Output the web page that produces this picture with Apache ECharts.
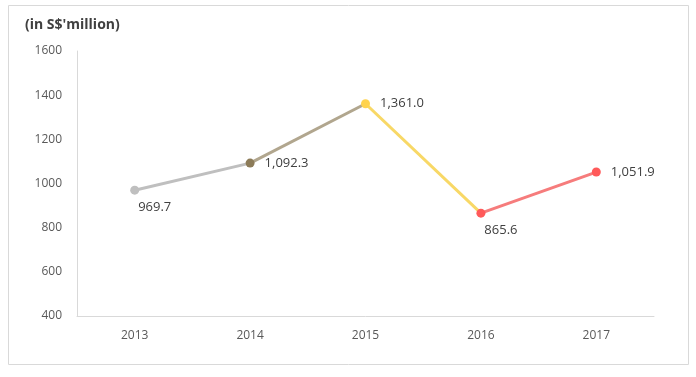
<!DOCTYPE html>
<html>
<head>
<meta charset="utf-8">
<script src="https://cdn.jsdelivr.net/npm/echarts@6/dist/echarts.min.js"></script>
<style>
  html, body { margin: 0; padding: 0; background: #fff; }
  #main { width: 696px; height: 377px; }
</style>
</head>
<body>
<div id="main"></div>
<script>
// data
var years = ['2013', '2014', '2015', '2016', '2017'];
var revenue = [969.7, 1092.3, 1361.0, 865.6, 1051.9];
var labelText = ['969.7', '1,092.3', '1,361.0', '865.6', '1,051.9'];
var pointColors = ['#bfbfbf', '#8c7b58', '#ffd34d', '#ff5a5a', '#ff5a5a'];
var segColors = ['#bfbfbf', '#b1a68e', '#f8d866', '#f67c7c'];
var belowLabel = [true, false, false, true, false];

var series = [];
// one series per segment, coloured like its left point
segColors.forEach(function (c, i) {
  series.push({
    type: 'line',
    data: revenue.map(function (v, j) { return (j === i || j === i + 1) ? v : '-'; }),
    symbol: 'none',
    lineStyle: { color: c, width: 3 },
    silent: true,
    z: 2
  });
});
// points + labels
series.push({
  type: 'line',
  lineStyle: { width: 0, opacity: 0 },
  symbol: 'circle',
  symbolSize: 9,
  z: 3,
  data: revenue.map(function (v, i) {
    return {
      value: v,
      itemStyle: { color: pointColors[i] },
      label: belowLabel[i]
        ? { show: true, position: 'bottom', offset: [20, 1], formatter: labelText[i] }
        : { show: true, position: 'right', distance: 10, formatter: labelText[i] }
    };
  }),
  label: { color: '#404040', fontSize: 13, fontFamily: 'Open Sans' }
});

var chart = echarts.init(document.getElementById('main'));
chart.setOption({
  animation: false,
  grid: { left: 77, right: 42, top: 51, bottom: 61 },
  graphic: [{
    type: 'rect',
    shape: { x: 8.5, y: 5.5, width: 680, height: 359 },
    style: { fill: 'none', stroke: '#d9d9d9', lineWidth: 1 },
    z: -1
  }, {
    type: 'text',
    left: 25,
    top: 18,
    style: { text: "(in S$'million)", font: 'bold 14px "Open Sans"', fill: '#404040' }
  }],
  xAxis: {
    type: 'category',
    data: years,
    boundaryGap: true,
    axisLine: { lineStyle: { color: '#d9d9d9', width: 1 } },
    axisTick: { show: false },
    axisLabel: { color: '#595959', fontSize: 12, fontFamily: 'Open Sans', margin: 14 }
  },
  yAxis: {
    type: 'value',
    min: 400,
    max: 1600,
    interval: 200,
    axisLine: { show: true, lineStyle: { color: '#d9d9d9', width: 1 } },
    splitLine: { show: false },
    axisTick: { show: false },
    axisLabel: {
      color: '#595959', fontSize: 12, fontFamily: 'Open Sans', margin: 15,
      formatter: function (v) { return String(v); }
    }
  },
  series: series
});
</script>
</body>
</html>
